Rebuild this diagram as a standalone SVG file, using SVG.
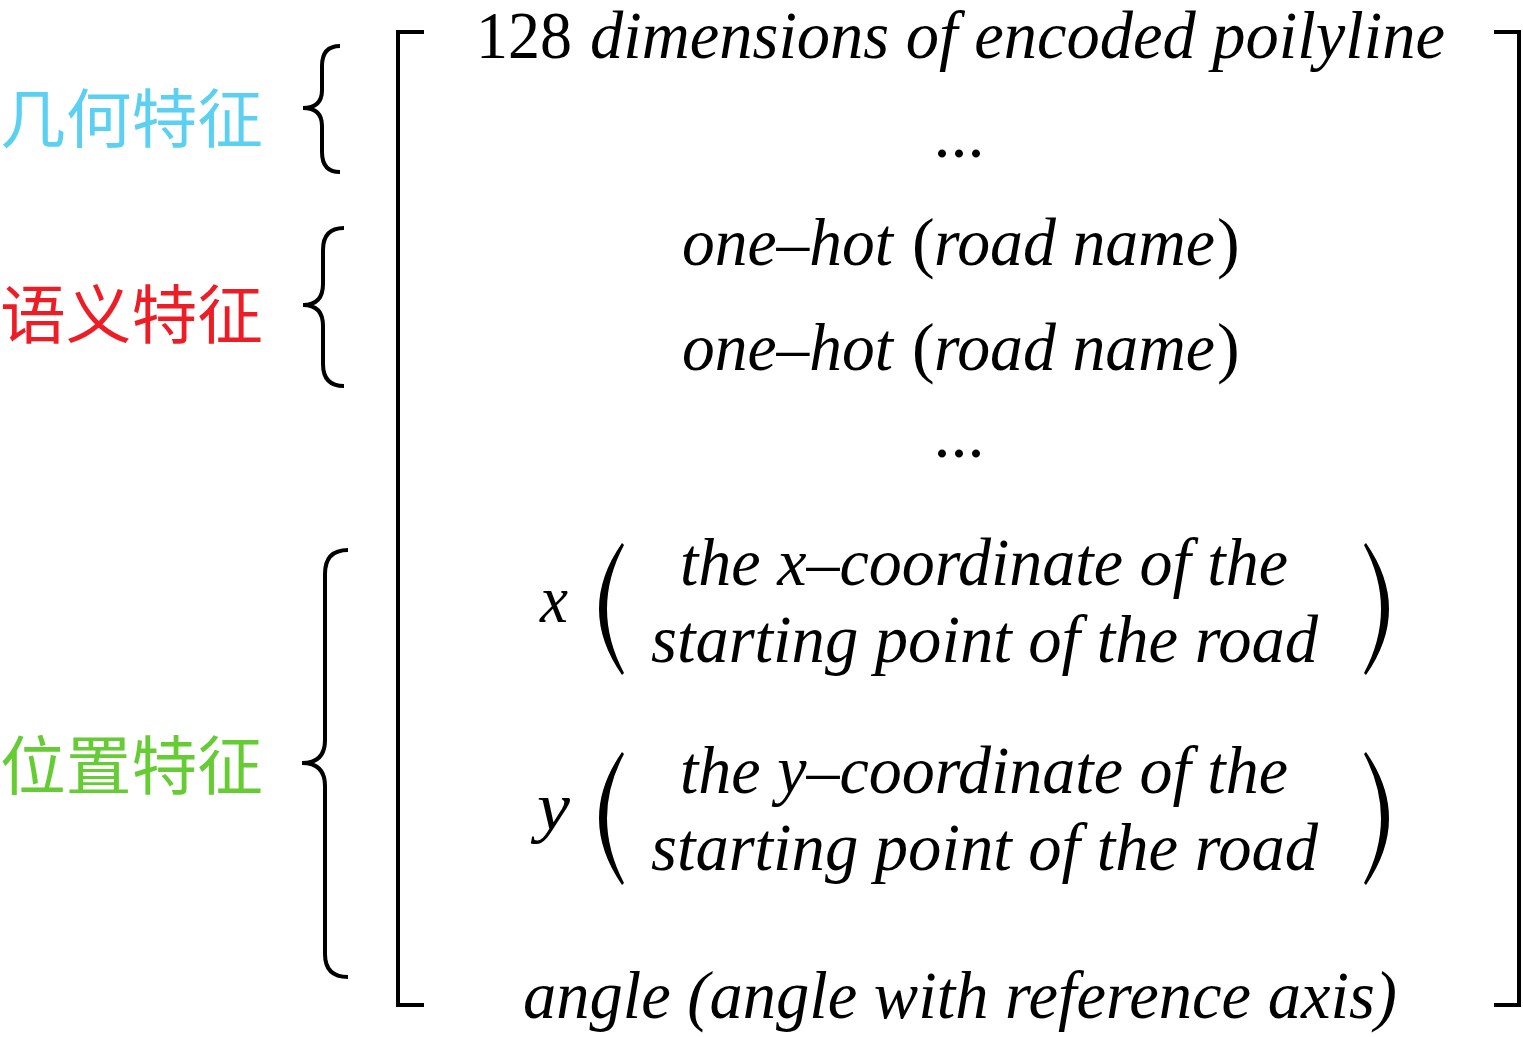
<svg xmlns="http://www.w3.org/2000/svg" width="1523" height="1037" viewBox="0 0 1523 1037">
<style>
.t{font-family:"Liberation Serif","Times New Roman",serif;font-size:68px;fill:#000;font-style:italic}
.u{font-style:normal}
.cn{font-family:"Noto Sans CJK SC",sans-serif;font-size:64px}
.ln{fill:none;stroke:#000;stroke-width:4;stroke-linecap:butt}
.par{fill:#000;stroke:none}
</style>
<rect width="1523" height="1037" fill="#fff"/>
<g id="labels">
<g id="label-geometry"><text class="cn" x="0" y="142" fill="#5BD0F0" textLength="263" lengthAdjust="spacingAndGlyphs">几何特征</text></g>
<g id="label-semantic"><text class="cn" x="0" y="338" fill="#EE1C25" textLength="263" lengthAdjust="spacingAndGlyphs">语义特征</text></g>
<g id="label-position"><text class="cn" x="0" y="789" fill="#66CC33" textLength="263" lengthAdjust="spacingAndGlyphs">位置特征</text></g>
</g>
<g id="connectors">
<path class="ln" d="M340,46 Q322,46 322,66 L322,90 Q322,108 303,108 Q322,108 322,126 L322,152 Q322,172 340,172"/>
<path class="ln" d="M344,228 Q323,228 323,250 L323,284 Q323,305 303,305 Q323,305 323,326 L323,364 Q323,386 344,386"/>
<path class="ln" d="M348,550 Q325,550 325,574 L325,740 Q325,763 302,763 Q325,763 325,786 L325,954 Q325,977 348,977"/>
</g>
<g id="matrix">
<path class="ln" d="M424,32 H398 V1005 H424"/>
<path class="ln" d="M1494,32 H1519 V1005 H1494"/>
</g>
<g id="row-encoded">
<text class="t u" x="476" y="58" textLength="96" lengthAdjust="spacingAndGlyphs">128</text>
<text class="t" x="590" y="58" textLength="855" lengthAdjust="spacingAndGlyphs">dimensions of encoded poilyline</text>
</g>
<g id="row-dots1"><text class="t u" x="959" y="157" text-anchor="middle">...</text></g>
<g id="row-onehot1">
<text class="t" x="682" y="265" textLength="211" lengthAdjust="spacingAndGlyphs">one–hot</text>
<text class="t u" x="912" y="265">(</text>
<text class="t" x="934" y="265" textLength="281" lengthAdjust="spacingAndGlyphs">road name</text>
<text class="t u" x="1217" y="265">)</text>
</g>
<g id="row-onehot2">
<text class="t" x="682" y="370" textLength="211" lengthAdjust="spacingAndGlyphs">one–hot</text>
<text class="t u" x="912" y="370">(</text>
<text class="t" x="934" y="370" textLength="281" lengthAdjust="spacingAndGlyphs">road name</text>
<text class="t u" x="1217" y="370">)</text>
</g>
<g id="row-dots2"><text class="t u" x="959" y="457" text-anchor="middle">...</text></g>
<g id="row-x">
<text class="t" x="540" y="622" textLength="28" lengthAdjust="spacingAndGlyphs">x</text>
<path class="par" d="M622,543 Q576,609 622,675 L624,673 Q590,609 624,545 Z"/>
<text class="t" x="680" y="585" textLength="608" lengthAdjust="spacingAndGlyphs">the x–coordinate of the</text>
<text class="t" x="651" y="662" textLength="667" lengthAdjust="spacingAndGlyphs">starting point of the road</text>
<path class="par" d="M1366,543 Q1412,609 1366,675 L1364,673 Q1398,609 1364,545 Z"/>
</g>
<g id="row-y">
<text class="t" x="537" y="830" textLength="33" lengthAdjust="spacingAndGlyphs">y</text>
<path class="par" d="M622,752 Q576,818 622,885 L624,883 Q590,818 624,754 Z"/>
<text class="t" x="680" y="793" textLength="608" lengthAdjust="spacingAndGlyphs">the y–coordinate of the</text>
<text class="t" x="651" y="870" textLength="667" lengthAdjust="spacingAndGlyphs">starting point of the road</text>
<path class="par" d="M1366,752 Q1412,818 1366,885 L1364,883 Q1398,818 1364,754 Z"/>
</g>
<g id="row-angle"><text class="t" x="523" y="1018" textLength="874" lengthAdjust="spacingAndGlyphs">angle (angle with reference axis)</text></g>
</svg>
